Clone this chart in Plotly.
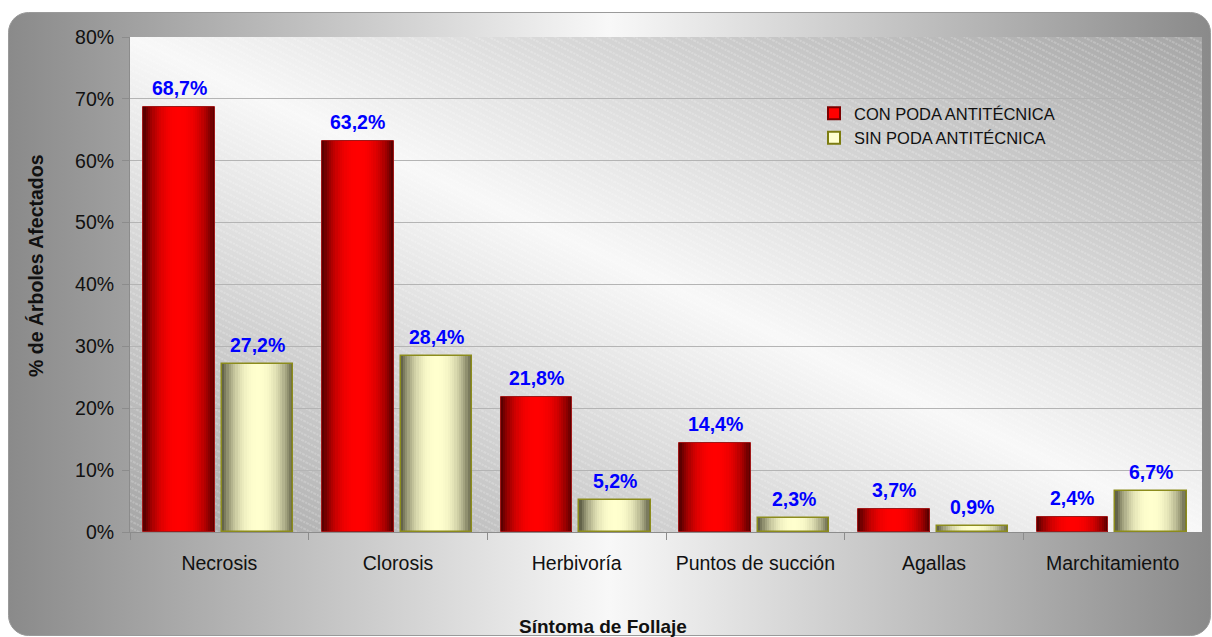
import base64
import plotly.graph_objects as go

# ---------------- data ----------------
categories = ["Necrosis", "Clorosis", "Herbivoría", "Puntos de succión", "Agallas", "Marchitamiento"]
con_poda = [68.7, 63.2, 21.8, 14.4, 3.7, 2.4]
sin_poda = [27.2, 28.4, 5.2, 2.3, 0.9, 6.7]
series_names = ["CON PODA ANTITÉCNICA", "SIN PODA ANTITÉCNICA"]
y_tick_values = [0, 10, 20, 30, 40, 50, 60, 70, 80]
y_tick_labels = ["0%", "10%", "20%", "30%", "40%", "50%", "60%", "70%", "80%"]
x_title = "Síntoma de Follaje"
y_title = "% de Árboles Afectados"

W, H = 1212, 637
ML, MR, MT, MB = 130, 10, 37, 105
PW, PH = W - ML - MR, H - MT - MB

FONT = "Arial, Liberation Sans, sans-serif"

# ---------------- background (outer rounded panel + plot area gradient) ----------------
svg = f'''<svg xmlns="http://www.w3.org/2000/svg" width="{W}" height="{H}" viewBox="0 0 {W} {H}">
<defs>
<linearGradient id="og" x1="0" y1="0" x2="1" y2="0">
<stop offset="0" stop-color="#8a8a8a"/>
<stop offset="0.5" stop-color="#f8f8f8"/>
<stop offset="1" stop-color="#8a8a8a"/>
</linearGradient>
<linearGradient id="pg" gradientUnits="userSpaceOnUse" x1="478" y1="692" x2="854" y2="-123">
<stop offset="0" stop-color="#a6a6a6"/>
<stop offset="0.5" stop-color="#f8f8f8"/>
<stop offset="1" stop-color="#a6a6a6"/>
</linearGradient>
<pattern id="hp" patternUnits="userSpaceOnUse" width="7" height="6" patternTransform="rotate(27)">
<line x1="0" y1="3" x2="7" y2="3" stroke="#ffffff" stroke-width="1" stroke-opacity="0.4" stroke-dasharray="2 1"/>
</pattern>
</defs>
<rect x="8.5" y="12.5" width="1202" height="623" rx="20" ry="20" fill="url(#og)" stroke="#9a9a9a" stroke-width="1"/>
<rect x="{ML}" y="{MT}" width="{PW}" height="{PH}" fill="url(#pg)"/>
<rect x="{ML}" y="{MT}" width="{PW}" height="{PH}" fill="url(#hp)"/>
</svg>'''
svg_uri = "data:image/svg+xml;base64," + base64.b64encode(svg.encode("utf-8")).decode("ascii")


def lerp(c1, c2, t):
    return "rgb(%d,%d,%d)" % tuple(round(a + (b - a) * t) for a, b in zip(c1, c2))


series = [
    dict(name=series_names[0], values=con_poda, offset=-0.425, width=0.40,
         edge=(92, 0, 0), center=(255, 0, 0), line="#a01818", lw=1,
         legend_fill="#ff0000", legend_line="#7a0000"),
    dict(name=series_names[1], values=sin_poda, offset=0.015, width=0.40,
         edge=(100, 100, 74), center=(255, 255, 206), line="#8c8c1c", lw=1.5,
         legend_fill="#ffffd0", legend_line="#7c7c10"),
]

fig = go.Figure()
N = 16
for s in series:
    # cylindrical shading built from nested bars of the same data
    for k in range(N):
        r = 1 - k / N
        w = s["width"] * r
        off = s["offset"] + s["width"] * (1 - r) / 2
        g = 1 - r ** 2.5
        fig.add_trace(go.Bar(
            x=categories, y=s["values"], width=w, offset=off,
            marker=dict(color=lerp(s["edge"], s["center"], g), line=dict(width=0)),
            showlegend=False, hoverinfo="skip",
        ))
    # outline
    fig.add_trace(go.Bar(
        x=categories, y=s["values"], width=s["width"], offset=s["offset"],
        marker=dict(color="rgba(0,0,0,0)", line=dict(color=s["line"], width=s["lw"])),
        name=s["name"], showlegend=False,
    ))

# value labels, placed above each bar from the data
annotations = []
for s in series:
    for i, v in enumerate(s["values"]):
        annotations.append(dict(
            x=i + s["offset"] + s["width"] / 2, y=v, xref="x", yref="y",
            text=f"<b>{v:.1f}%".replace(".", ",") + "</b>",
            showarrow=False, xanchor="center", yanchor="bottom", yshift=6,
            font=dict(family=FONT, size=19.5, color="#0000ff"),
        ))

# legend entries
for i, s in enumerate(series):
    fig.add_trace(go.Bar(
        x=[None], y=[None], name=s["name"], legendgroup=f"g{i}",
        marker=dict(color=s["legend_fill"], line=dict(color=s["legend_line"], width=2)),
        showlegend=True,
    ))

fig.add_layout_image(dict(
    source=svg_uri, xref="paper", yref="paper",
    x=-ML / PW, y=1 + MT / PH, sizex=W / PW, sizey=H / PH,
    xanchor="left", yanchor="top", sizing="stretch", layer="below",
))

annotations += [
    dict(text=f"<b>{y_title}</b>", xref="paper", yref="paper",
         x=(36 - ML) / PW, y=(H - MB - 266) / PH, textangle=-90,
         showarrow=False, font=dict(size=19.5, color="#111111", family=FONT),
         xanchor="center", yanchor="middle"),
    dict(text=f"<b>{x_title}</b>", xref="paper", yref="paper",
         x=(603 - ML) / PW, y=-(626 - (H - MB)) / PH,
         showarrow=False, font=dict(size=19, color="#111111", family=FONT),
         xanchor="center", yanchor="middle"),
]

fig.update_layout(
    width=W, height=H,
    margin=dict(l=ML, r=MR, t=MT, b=MB),
    paper_bgcolor="#ffffff", plot_bgcolor="rgba(0,0,0,0)",
    barmode="overlay", bargap=0,
    font=dict(family=FONT, color="#111111"),
    showlegend=True,
    legend=dict(
        x=(814 - ML) / PW, y=1 - (96 - MT) / PH, xanchor="left", yanchor="top",
        bgcolor="rgba(0,0,0,0)", font=dict(size=16.5, color="#111111"),
        tracegroupgap=0,
    ),
    xaxis=dict(
        type="category", categoryorder="array", categoryarray=categories,
        range=[-0.5, len(categories) - 0.5],
        showline=True, linecolor="#8c8c8c", linewidth=1,
        ticks="outside", tickson="boundaries", ticklen=7, tickcolor="#8c8c8c",
        tickfont=dict(size=19.5, color="#111111"), ticklabelstandoff=14,
        showgrid=False, zeroline=False,
    ),
    yaxis=dict(
        range=[0, 80], tickvals=y_tick_values, ticktext=y_tick_labels,
        showline=True, linecolor="#8c8c8c", linewidth=1,
        ticks="outside", ticklen=7, tickcolor="#8c8c8c",
        tickfont=dict(size=19.5, color="#111111"), ticklabelstandoff=4,
        showgrid=True, gridcolor="#b4b4b4", gridwidth=1, zeroline=False,
    ),
    annotations=annotations,
)

fig.write_html("out.html")
